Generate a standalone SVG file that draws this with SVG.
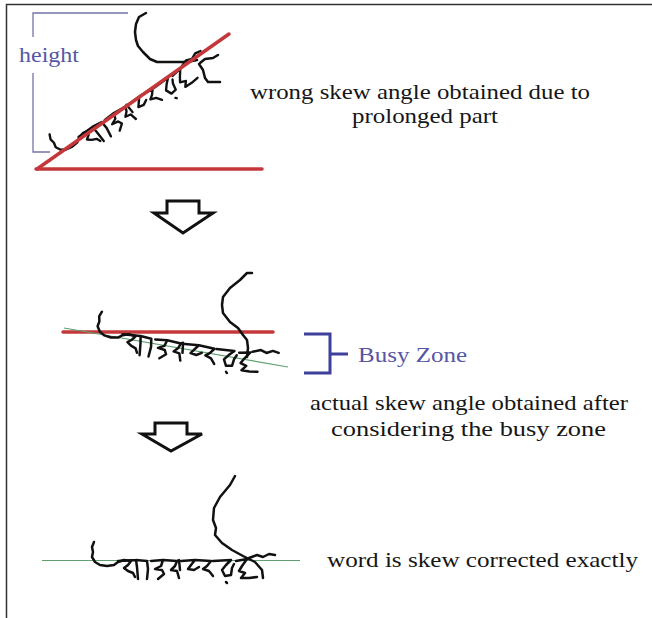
<svg xmlns="http://www.w3.org/2000/svg" width="652" height="618" viewBox="0 0 652 618">
<defs>
<style>
text{font-family:'Liberation Serif','DejaVu Serif',serif;font-size:22px}
.t{fill:#161616}
.b{fill:#5656a6}
.hw{fill:none;stroke:#111;stroke-width:2.5;stroke-linejoin:round;stroke-linecap:round}
.red{stroke:#c4383b;stroke-width:3.5;stroke-linecap:round;fill:none}
.grn{stroke:#5f9f72;stroke-width:1.2;fill:none}
.arr{fill:#fff;stroke:#111;stroke-width:3;stroke-linejoin:miter}
</style>
<g id="word">
<path class="hw" d="M3,-19 L1,-14 L2,-9 L1,-4 L4,1 L9,4 L16,5 L23,4 L27,1 L33,-1 L40,0 L37,4 L33,7 L37,10 L42,12 L44,16"/>
<path class="hw" d="M27,0 L45,-1 L46,6 L47,18 M45,-1 L56,0 L57,8 L56,18"/>
<path class="hw" d="M60,0 L72,-1 L70,5 L64,8 L71,9 L73,13 L67,18 M72,-1 L86,0 L84,5 L80,9 L86,10 L88,17 M86,0 L88,-1 L89,9"/>
<path class="hw" d="M90,0 L104,-1 L100,4 L97,8 L103,9 L108,6 M104,-1 L120,0 L116,5 L112,8 L118,10 L122,15"/>
<path class="hw" d="M122,0 L140,-1 L135,4 L131,9 L134,15 L140,14 L141,7 L143,3 M135,21 L136,22"/>
<path class="hw" d="M145,0 L156,-2 L151,5 L148,10 L154,12 L150,17 L158,17 L166,16 M158,-3 L166,-6 L172,-4 L178,-7 L184,-6"/>
</g>
</defs>

<rect width="652" height="618" fill="#fff"/>
<g id="frame"><path d="M6.5,618 V4.5 H652" fill="none" stroke="#333" stroke-width="1.5"/></g>

<g id="height-bracket">
<path d="M128,13 H33 V37 M33,73 V152 H50" fill="none" stroke="#7474a4" stroke-width="1.3"/>
<text class="b" x="19" y="62" textLength="60" lengthAdjust="spacingAndGlyphs">height</text>
</g>
<g id="word-skewed">
<use href="#word" transform="translate(57,151) rotate(-33) scale(0.95)"/>
<path class="hw" d="M146,13 L139,17 L136,24 L135,32 L136,40 L138,46 L143,52 L150,59 L157,62 L172,62 L187,62 L197,60 M200,63 L205,59 L213,58 L218,55 M199,64 L203,70 L205,78 L208,82 L220,82"/>
</g>
<g id="connectors">
<line class="red" x1="37" y1="169" x2="229" y2="34"/>
<line class="red" x1="36" y1="169" x2="262" y2="169"/>
<line class="red" x1="63" y1="332" x2="273" y2="332"/>
<line class="grn" x1="64" y1="328" x2="288" y2="367"/>
<line class="grn" x1="42" y1="560.5" x2="300" y2="560.5"/>
<polygon id="arrow1" class="arr" points="167,201 199,201 199,213 213,213 183,233 154,213 167,213"/>
<polygon id="arrow2" class="arr" points="155,423 187,423 187,434 202,434 171,451 142,434 155,434"/>
</g>
<g id="label-wrong">
<text class="t" x="250" y="99" textLength="340" lengthAdjust="spacingAndGlyphs">wrong skew angle obtained due to</text>
<text class="t" x="352" y="123" textLength="146" lengthAdjust="spacingAndGlyphs">prolonged part</text>
</g>

<g id="word-middle">
<use href="#word" transform="translate(96,330) rotate(9)"/>
<path class="hw" d="M252,273 L247,273 L240,280 L230,288 L223,297 L222,305 L223,313 L230,322 L238,328 L243,335 L247,340 L248,348 L247,357"/>
</g>
<g id="busy-zone">
<path d="M304,334 H330 V373 H304 M330,354 H348" fill="none" stroke="#3f3f9c" stroke-width="3"/>
<text class="b" x="358" y="362" textLength="109" lengthAdjust="spacingAndGlyphs">Busy Zone</text>
</g>
<g id="label-actual">
<text class="t" x="310" y="410" textLength="318" lengthAdjust="spacingAndGlyphs">actual skew angle obtained after</text>
<text class="t" x="331" y="436" textLength="275" lengthAdjust="spacingAndGlyphs">considering the busy zone</text>
</g>

<g id="word-corrected">
<use href="#word" transform="translate(91,561)"/>
<path class="hw" d="M235,476 L230,485 L220,497 L214,508 L213,520 L216,528 L215,535 L222,543 L232,550 L243,556 L255,562 L262,570 L263,578"/>
</g>
<g id="label-corrected">
<text class="t" x="327" y="567" textLength="311" lengthAdjust="spacingAndGlyphs">word is skew corrected exactly</text>
</g>
</svg>
